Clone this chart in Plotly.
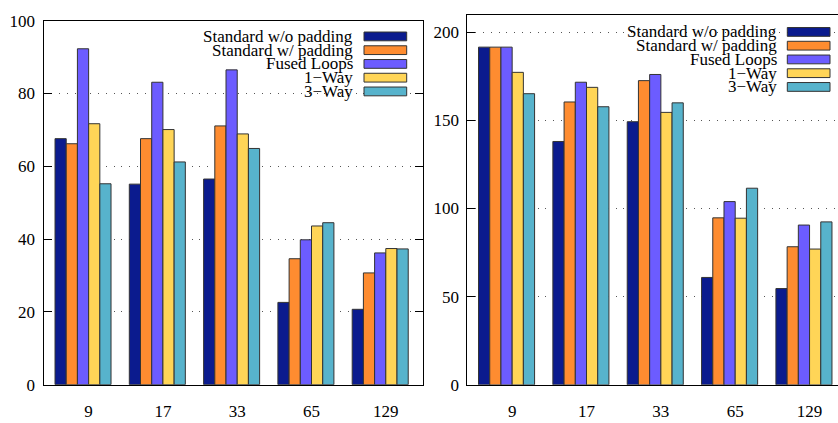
import plotly.graph_objects as go

W, H = 838, 423

categories = ["9", "17", "33", "65", "129"]
series_names = ["Standard w/o padding", "Standard w/ padding", "Fused Loops", "1\u2212Way", "3\u2212Way"]
colors = ["#0b1b8e", "#fe8c30", "#6c5cff", "#ffd557", "#57b3cc"]

left_values = {
    "Standard w/o padding": [67.6, 55.1, 56.5, 22.6, 20.7],
    "Standard w/ padding": [66.2, 67.6, 71.1, 34.6, 30.7],
    "Fused Loops": [92.3, 83.1, 86.5, 39.8, 36.2],
    "1\u2212Way": [71.7, 70.1, 68.9, 43.6, 37.4],
    "3\u2212Way": [55.2, 61.2, 64.9, 44.5, 37.3],
}
right_values = {
    "Standard w/o padding": [191.5, 138.0, 149.2, 60.9, 54.6],
    "Standard w/ padding": [191.5, 160.4, 172.5, 94.7, 78.3],
    "Fused Loops": [191.5, 171.6, 176.0, 103.9, 90.6],
    "1\u2212Way": [177.2, 168.7, 154.5, 94.5, 77.0],
    "3\u2212Way": [165.1, 157.7, 159.9, 111.5, 92.4],
}
left_yticks = [0, 20, 40, 60, 80, 100]
right_yticks = [0, 50, 100, 150, 200]

FONT = "Liberation Serif"
idx = list(range(len(categories)))

fig = go.Figure()
for name, col in zip(series_names, colors):
    fig.add_trace(go.Bar(x=idx, y=left_values[name], name=name, marker_color=col,
                         marker_line=dict(color="#333333", width=1),
                         xaxis="x", yaxis="y", showlegend=False, offsetgroup=name))
    fig.add_trace(go.Bar(x=idx, y=right_values[name], name=name, marker_color=col,
                         marker_line=dict(color="#333333", width=1),
                         xaxis="x2", yaxis="y2", showlegend=False, offsetgroup=name))

def px_x(v):
    return v / W

def px_y(v):
    return 1 - v / H

tick_shift = 0.075
common_x = dict(tickvals=[i + tick_shift for i in idx], ticktext=categories, showgrid=False,
                showline=True, linecolor="black", linewidth=1, mirror=True, ticks="",
                ticklabelstandoff=11,
                tickfont=dict(family=FONT, size=17, color="black"), zeroline=False)
common_y = dict(showline=True, linecolor="black", linewidth=1, ticks="inside", ticklen=8,
                tickcolor="black", showgrid=True, gridcolor="#555555", gridwidth=1,
                griddash="1px,6.8px", zeroline=False, ticklabelstandoff=4,
                tickfont=dict(family=FONT, size=17, color="black"))

fig.update_layout(
    width=W, height=H,
    margin=dict(l=0, r=0, t=0, b=0),
    paper_bgcolor="white", plot_bgcolor="white",
    barmode="group", bargap=0.246, bargroupgap=0,
    xaxis=dict(domain=[px_x(43.5), px_x(423)], range=[-0.532, 4.576], anchor="y", **common_x),
    yaxis=dict(domain=[px_y(393.3), px_y(12.3)], range=[0, 100], tickvals=left_yticks,
               anchor="x", mirror="ticks", **common_y),
    xaxis2=dict(domain=[px_x(467.3), 1.0], range=[-0.528, 4.458], anchor="y2", **common_x),
    yaxis2=dict(domain=[px_y(393.5), px_y(6.7)], range=[0, 209.5], tickvals=right_yticks,
                anchor="x2", mirror=False, **common_y),
)

shapes = []
annotations = []
# key backgrounds (between grid and bars)
shapes.append(dict(type="rect", xref="paper", yref="paper", x0=px_x(188), x1=px_x(412),
                   y0=px_y(20), y1=px_y(94), fillcolor="white", line=dict(width=0), layer="between"))
shapes.append(dict(type="rect", xref="paper", yref="paper", x0=px_x(612), x1=px_x(838),
                   y0=px_y(14), y1=px_y(90), fillcolor="white", line=dict(width=0), layer="between"))

keys = [
    dict(text_right=354, box_x0=364, box_x1=406.7, y0=28.7),
    dict(text_right=778, box_x0=787.3, box_x1=830, y0=24.0),
]
row_step = 14.4
for k in keys:
    for j, (name, col) in enumerate(zip(series_names, colors)):
        yc = k["y0"] + j * row_step
        annotations.append(dict(xref="paper", yref="paper", x=px_x(k["text_right"]), y=px_y(yc),
                                xanchor="right", yanchor="middle", text=name, showarrow=False,
                                borderpad=0,
                                font=dict(family=FONT, size=17, color="black")))
        shapes.append(dict(type="rect", xref="paper", yref="paper",
                           x0=px_x(k["box_x0"]), x1=px_x(k["box_x1"]),
                           y0=px_y(yc + 4.6), y1=px_y(yc - 4.6),
                           fillcolor=col, line=dict(color="#333333", width=1), layer="above"))

fig.update_layout(shapes=shapes, annotations=annotations)
fig.write_html("out.html")
